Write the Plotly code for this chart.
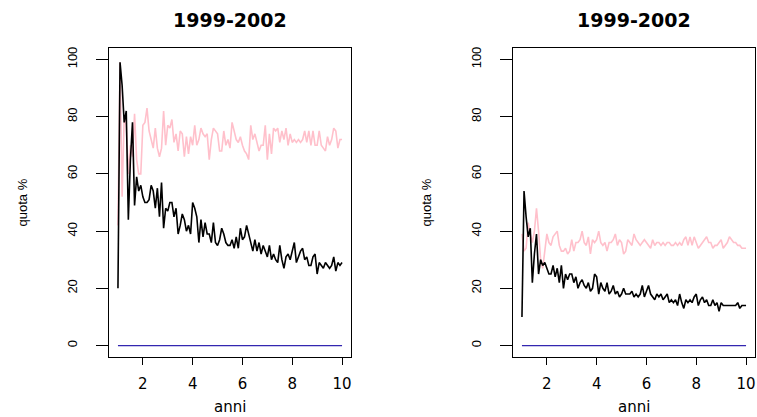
import plotly.graph_objects as go

# Monthly observations over ten years (x = anni, 1 .. 10)
n_obs = 109
anni = [1 + i / 12 for i in range(n_obs)]

# Left panel: quota % series
quota_sx_nera = [
    20, 99, 91, 78, 82, 44, 65, 78, 49, 59, 54, 56,
    52, 50, 50, 51, 56, 54, 48, 55, 45, 57, 41, 48,
    47, 50, 50, 45, 48, 39, 42, 46, 44, 40, 42, 39,
    50, 48, 45, 36, 44, 38, 43, 39, 39, 36, 43, 36,
    35, 37, 41, 39, 36, 35, 35, 37, 34, 38, 34, 41,
    37, 38, 42, 39, 35, 33, 37, 33, 36, 32, 35, 33,
    31, 35, 30, 32, 30, 29, 35, 30, 27, 31, 32, 30,
    33, 36, 29, 31, 33, 34, 30, 31, 28, 28, 31, 32,
    25, 29, 28, 27, 29, 28, 27, 28, 31, 26, 29, 28,
    29,
]
quota_sx_rosa = [
    42, 99, 52, 80, 77, 60, 70, 66, 81, 65, 60, 60,
    77, 78, 83, 75, 72, 69, 76, 69, 66, 69, 82, 70,
    77, 76, 79, 71, 74, 68, 75, 74, 66, 73, 67, 73,
    70, 77, 70, 72, 76, 74, 73, 74, 65, 72, 76, 75,
    74, 68, 68, 75, 70, 72, 69, 78, 75, 72, 71, 73,
    70, 68, 67, 65, 77, 72, 74, 71, 68, 70, 70, 77,
    65, 74, 67, 76, 75, 76, 71, 75, 72, 76, 70, 74,
    71, 72, 71, 72, 71, 72, 75, 71, 75, 70, 75, 70,
    70, 75, 70, 69, 68, 73, 70, 72, 76, 75, 69, 72,
    72,
]

# Right panel: quota % series
quota_dx_nera = [
    10, 54, 45, 38, 41, 22, 32, 39, 25, 30, 28, 29,
    27, 25, 25, 28, 24, 27, 22, 28, 20, 25, 23, 25,
    25, 22, 24, 20, 22, 23, 21, 20, 22, 19, 20, 25,
    24, 18, 22, 20, 19, 22, 18, 19, 21, 18, 19, 17,
    18, 20, 18, 18, 18, 19, 17, 18, 17, 18, 21, 17,
    19, 21, 18, 17, 16, 18, 17, 18, 16, 17, 18, 15,
    16, 15, 16, 14, 18, 15, 13, 16, 15, 16, 15, 17,
    18, 14, 16, 17, 15, 16, 14, 14, 16, 14, 15, 12,
    15, 14, 14, 14, 14, 14, 14, 14, 15, 13, 14, 14,
    14,
]
quota_dx_rosa = [
    39, 33, 34, 43, 39, 36, 40, 48, 40, 30, 27, 33,
    39, 36, 35, 38, 39, 40, 35, 33, 33, 34, 32, 33,
    37, 33, 36, 36, 37, 40, 36, 35, 38, 32, 37, 36,
    37, 40, 36, 35, 36, 33, 36, 36, 37, 39, 35, 37,
    36, 32, 33, 37, 36, 35, 39, 37, 36, 35, 36, 37,
    36, 35, 34, 37, 35, 36, 36, 35, 36, 35, 36, 36,
    35, 35, 36, 35, 36, 35, 37, 38, 35, 38, 35, 38,
    36, 34, 35, 36, 37, 38, 36, 36, 34, 35, 35, 36,
    37, 34, 35, 36, 38, 37, 36, 36, 35, 35, 34, 34,
    34,
]

# Reference line at zero across the whole period
base_x = [1, 10]
base_y = [0, 0]

y_ticks = [0, 20, 40, 60, 80, 100]
x_ticks = [2, 4, 6, 8, 10]

titolo = "1999-2002"
etichetta_x = "anni"
etichetta_y = "quota %"

W, H = 757, 417
PINK = "#ffc0cb"
NAVY = "#3326b0"

fig = go.Figure()

panels = [
    ("x", "y", quota_sx_nera, quota_sx_rosa),
    ("x2", "y2", quota_dx_nera, quota_dx_rosa),
]
for xa, ya, nera, rosa in panels:
    fig.add_trace(go.Scatter(x=base_x, y=base_y, mode="lines",
                             line=dict(color=NAVY, width=1.2),
                             xaxis=xa, yaxis=ya, showlegend=False))
    fig.add_trace(go.Scatter(x=anni[:len(rosa)], y=rosa, mode="lines",
                             line=dict(color=PINK, width=1.6),
                             xaxis=xa, yaxis=ya, showlegend=False))
    fig.add_trace(go.Scatter(x=anni[:len(nera)], y=nera, mode="lines",
                             line=dict(color="black", width=1.6),
                             xaxis=xa, yaxis=ya, showlegend=False))

# Plot boxes in pixels (left, right), shared vertical extent
boxes = [(109, 351), (513, 755)]
box_top, box_bottom = 48, 357
y_dom = [1 - box_bottom / H, 1 - box_top / H]

common_x = dict(range=[0.64, 10.36], tickvals=x_ticks, ticks="outside", ticklen=7,
                tickwidth=1, tickcolor="black", showline=True, linecolor="black",
                linewidth=1, mirror=True, showgrid=False, zeroline=False,
                ticklabelstandoff=6,
                tickfont=dict(family="DejaVu Sans", size=15, color="black"))
common_y = dict(range=[-4, 104], tickvals=y_ticks, ticks="outside", ticklen=12,
                tickwidth=1, tickcolor="black", showline=True, linecolor="black",
                linewidth=1, mirror=True, showgrid=False, zeroline=False,
                tickangle=-90, ticklabelstandoff=14,
                tickfont=dict(family="Liberation Sans", size=13, color="black"))

layout_axes = {}
for i, (l, r) in enumerate(boxes):
    sfx = "" if i == 0 else str(i + 1)
    layout_axes["xaxis" + sfx] = dict(common_x, domain=[l / W, r / W],
                                      anchor="y" + sfx)
    layout_axes["yaxis" + sfx] = dict(common_y, domain=y_dom,
                                      anchor="x" + sfx)

annotations = []
for l, r in boxes:
    cx = (l + r) / 2
    annotations.append(dict(text="<b>" + titolo + "</b>", x=cx / W, y=1 - 20 / H,
                            xref="paper", yref="paper", showarrow=False,
                            xanchor="center", yanchor="middle",
                            font=dict(family="DejaVu Sans", size=19, color="black")))
    annotations.append(dict(text=etichetta_x, x=cx / W, y=1 - 407 / H,
                            xref="paper", yref="paper", showarrow=False,
                            xanchor="center", yanchor="middle",
                            font=dict(family="DejaVu Sans", size=15, color="black")))
    annotations.append(dict(text=etichetta_y, x=(l - 87) / W,
                            y=1 - (box_top + box_bottom) / 2 / H,
                            xref="paper", yref="paper", showarrow=False,
                            textangle=-90, xanchor="center", yanchor="middle",
                            font=dict(family="Liberation Sans", size=13, color="black")))

fig.update_layout(
    width=W, height=H,
    margin=dict(l=0, r=0, t=0, b=0),
    paper_bgcolor="white", plot_bgcolor="white",
    annotations=annotations,
    **layout_axes,
)

fig.write_html("out.html")
